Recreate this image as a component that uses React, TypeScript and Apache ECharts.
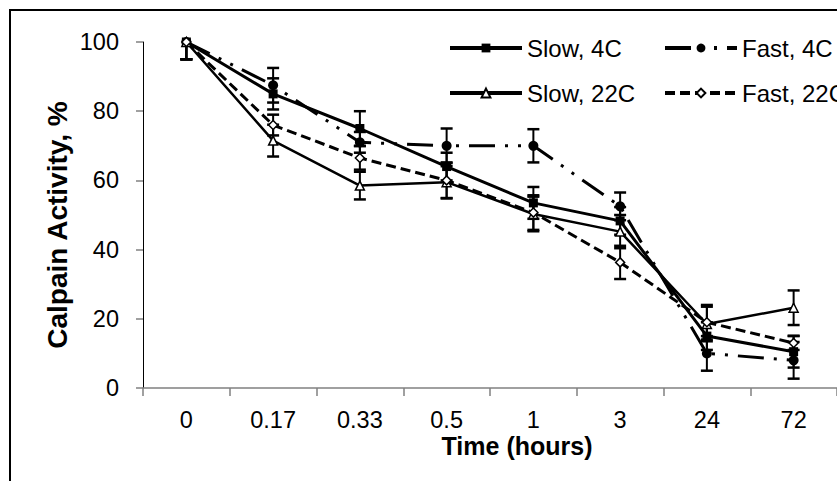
import React, { useEffect, useRef } from "react";
import * as echarts from "echarts";

const categories = ["0", "0.17", "0.33", "0.5", "1", "3", "24", "72"];
const seriesNames = ["Slow, 4C", "Fast, 4C", "Slow, 22C", "Fast, 22C"];
const slow4C = [100, 85, 75, 64, 53.5, 48.3, 15, 10.5];
const fast4C = [100, 87.5, 71, 70, 70, 52.5, 10, 8];
const slow22C = [100, 71.5, 58.5, 59.5, 50.3, 45.2, 18.5, 23.2];
const fast22C = [100, 76, 66.5, 60, 50.7, 36.3, 19, 13];
const slow4CErr = [5, 4.5, 5, 4, 4.6, 4, 4, 4.6];
const fast4CErr = [5, 5, 3, 5, 4.8, 4, 5, 5.3];
const slow22CErr = [5, 4.6, 4, 4.6, 5, 4.8, 5, 5];
const fast22CErr = [5, 3, 3.4, 5.2, 5, 4.8, 5, 2];
const yTicks = { min: 0, max: 100, interval: 20 };
const xTitle = "Time (hours)";
const yTitle = "Calpain Activity, %";

const FONT = "'Liberation Sans', Arial, sans-serif";

function errData(vals: number[], errs: number[]) {
  return vals.map((v, i) => [i, v - errs[i], v + errs[i]]);
}

function errSeries(vals: number[], errs: number[]) {
  return {
    type: "custom",
    clip: true,
    z: 1,
    silent: true,
    encode: { x: 0, y: [1, 2] },
    data: errData(vals, errs),
    renderItem: (params: any, api: any) => {
      const x = api.value(0);
      const lo = api.coord([x, api.value(1)]);
      const hi = api.coord([x, api.value(2)]);
      const hw = 6;
      return {
        type: "group",
        children: [
          { type: "line", shape: { x1: lo[0], y1: lo[1], x2: hi[0], y2: hi[1] }, style: { stroke: "#000", lineWidth: 2 } },
          { type: "line", shape: { x1: lo[0] - hw, y1: lo[1], x2: lo[0] + hw, y2: lo[1] }, style: { stroke: "#000", lineWidth: 2.5 } },
          { type: "line", shape: { x1: hi[0] - hw, y1: hi[1], x2: hi[0] + hw, y2: hi[1] }, style: { stroke: "#000", lineWidth: 2.5 } },
        ],
      };
    },
  };
}

export default function App() {
  const ref = useRef<HTMLDivElement>(null);
  useEffect(() => {
    if (!ref.current) return;
    const chart = echarts.init(ref.current, null, { renderer: "svg" });
    const legendText = { fontFamily: FONT, fontSize: 24, color: "#000", lineHeight: 24 };
    const legendCommon = {
      orient: "vertical",
      top: 31,
      itemWidth: 72,
      itemHeight: 11,
      itemGap: 21,
      textStyle: legendText,
      selectedMode: false,
      lineStyle: { width: 4 },
    };
    const legendItem = (name: string) => ({ name, lineStyle: { width: 4 } });
    const option: any = {
      animation: false,
      backgroundColor: "#fff",
      textStyle: { fontFamily: FONT },
      graphic: [
        {
          type: "rect",
          shape: { x: 10, y: 10, width: 900, height: 600 },
          style: { fill: "none", stroke: "#000", lineWidth: 2 },
          z: 0,
        },
        {
          type: "text",
          x: 57,
          y: 225,
          rotation: Math.PI / 2,
          style: {
            text: yTitle,
            fontFamily: FONT,
            fontSize: 28,
            fontWeight: "bold",
            fill: "#000",
            align: "center",
            verticalAlign: "middle",
          },
        },
        {
          type: "text",
          x: 517,
          y: 446,
          style: {
            text: xTitle,
            fontFamily: FONT,
            fontSize: 25,
            fontWeight: "bold",
            fill: "#000",
            align: "center",
            verticalAlign: "middle",
          },
        },
      ],
      legend: [
        { ...legendCommon, data: [legendItem(seriesNames[0]), legendItem(seriesNames[2])], left: 443 },
        { ...legendCommon, data: [legendItem(seriesNames[1]), legendItem(seriesNames[3])], left: 658 },
      ],
      grid: { left: 143, top: 42, width: 712, height: 346, containLabel: false },
      xAxis: {
        type: "category",
        data: categories,
        boundaryGap: true,
        axisLine: { lineStyle: { color: "#808080", width: 1.5 } },
        axisTick: { show: true, length: 8, lineStyle: { color: "#808080", width: 1.5 } },
        axisLabel: { margin: 20, fontFamily: FONT, fontSize: 23.5, color: "#000" },
        splitLine: { show: false },
      },
      yAxis: {
        type: "value",
        min: yTicks.min,
        max: yTicks.max,
        interval: yTicks.interval,
        axisLine: { show: true, lineStyle: { color: "#000", width: 1 } },
        axisTick: { show: true, length: 7, lineStyle: { color: "#808080", width: 1.5 } },
        axisLabel: { margin: 24, fontFamily: FONT, fontSize: 23.5, color: "#000" },
        splitLine: { show: false },
      },
      series: [
        errSeries(slow4C, slow4CErr),
        errSeries(fast4C, fast4CErr),
        errSeries(slow22C, slow22CErr),
        errSeries(fast22C, fast22CErr),
        {
          name: seriesNames[0],
          type: "line",
          data: slow4C,
          z: 3,
          symbol: "rect",
          symbolSize: 9,
          itemStyle: { color: "#000" },
          lineStyle: { color: "#000", width: 3 },
        },
        {
          name: seriesNames[1],
          type: "line",
          data: fast4C,
          z: 3,
          symbol: "circle",
          symbolSize: 10,
          itemStyle: { color: "#000" },
          lineStyle: { color: "#000", width: 3, type: [26, 10, 3, 10, 3, 10] },
        },
        {
          name: seriesNames[2],
          type: "line",
          data: slow22C,
          z: 3,
          symbol: "triangle",
          symbolSize: 9,
          itemStyle: { color: "#fff", borderColor: "#000", borderWidth: 1.5 },
          lineStyle: { color: "#000", width: 2.5 },
        },
        {
          name: seriesNames[3],
          type: "line",
          data: fast22C,
          z: 3,
          symbol: "diamond",
          symbolSize: 9,
          itemStyle: { color: "#fff", borderColor: "#000", borderWidth: 1.5 },
          lineStyle: { color: "#000", width: 3, type: [10, 5] },
        },
      ],
    };
    chart.setOption(option);
    return () => chart.dispose();
  }, []);
  return <div ref={ref} style={{ position: "absolute", left: 0, top: 0, width: 837, height: 481 }} />;
}
